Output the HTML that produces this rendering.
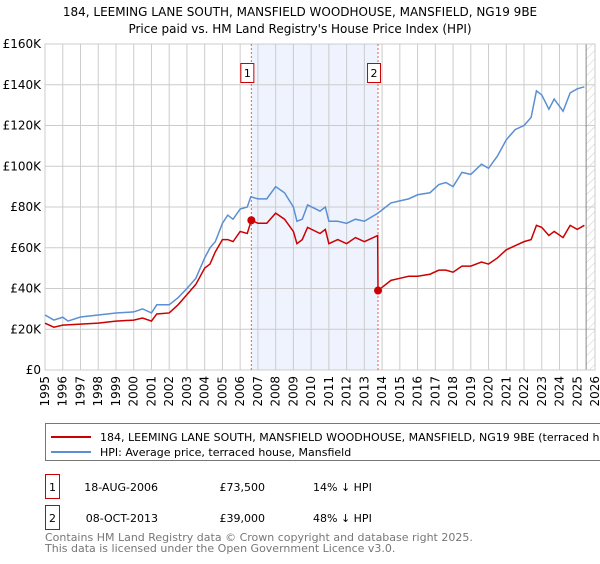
<!DOCTYPE html>
<html><head><meta charset="utf-8"><style>
body{margin:0;background:#fff;width:600px;height:560px;overflow:hidden;font-family:"DejaVu Sans","Liberation Sans",sans-serif;}
svg text{font-family:"DejaVu Sans","Liberation Sans",sans-serif;}
</style></head><body>
<svg id="c" width="600" height="560" viewBox="0 0 600 560"></svg>
<script>
const hpiYears=[1995,1995.5,1996,1996.3,1997,1998,1999,2000,2000.5,2001,2001.3,2002,2002.5,2003,2003.5,2004,2004.3,2004.6,2005,2005.3,2005.6,2006,2006.4,2006.6,2007,2007.5,2008,2008.5,2009,2009.2,2009.5,2009.8,2010.5,2010.8,2011,2011.5,2012,2012.5,2013,2013.77,2014.5,2015,2015.5,2016,2016.7,2017.2,2017.6,2018,2018.5,2019,2019.6,2020,2020.5,2021,2021.5,2022,2022.4,2022.7,2023,2023.4,2023.7,2024.2,2024.6,2025,2025.4];
const hpiValues=[27000,24500,25900,24000,26000,27000,28000,28500,30000,28000,32000,32000,35500,40000,45000,55000,60000,63000,72000,76000,74000,79000,80000,85000,84000,84000,90000,87000,80000,73000,74000,81000,78000,80000,73000,73000,72000,74000,73000,77000,82000,83000,84000,86000,87000,91000,92000,90000,97000,96000,101000,99000,105000,113000,118000,120000,124000,137000,135000,128000,133000,127000,136000,138000,139000];
const priceYears=[1995,1995.5,1996,1997,1998,1999,2000,2000.5,2001,2001.3,2002,2002.5,2003,2003.5,2004,2004.3,2004.6,2005,2005.3,2005.6,2006,2006.4,2006.63,2007,2007.5,2008,2008.5,2009,2009.2,2009.5,2009.8,2010.5,2010.8,2011,2011.5,2012,2012.5,2013,2013.75,2013.77,2014.5,2015,2015.5,2016,2016.7,2017.2,2017.6,2018,2018.5,2019,2019.6,2020,2020.5,2021,2021.5,2022,2022.4,2022.7,2023,2023.4,2023.7,2024.2,2024.6,2025,2025.4];
const priceValues=[23000,21000,22000,22500,23000,24000,24500,25500,24000,27500,28000,32000,37000,42000,50000,52000,58000,64000,64000,63000,68000,67000,73500,72000,72000,77000,74000,68000,62000,64000,70000,67000,69000,62000,64000,62000,65000,63000,66000,39000,44000,45000,46000,46000,47000,49000,49000,48000,51000,51000,53000,52000,55000,59000,61000,63000,64000,71000,70000,66000,68000,65000,71000,69000,71000];
const saleYears=[2006.63,2013.77];
const saleValues=[73500,39000];
const yTicks=[0,20000,40000,60000,80000,100000,120000,140000,160000];
const yTickLabels=["£0","£20K","£40K","£60K","£80K","£100K","£120K","£140K","£160K"];
const xTicks=[1995,1996,1997,1998,1999,2000,2001,2002,2003,2004,2005,2006,2007,2008,2009,2010,2011,2012,2013,2014,2015,2016,2017,2018,2019,2020,2021,2022,2023,2024,2025,2026];

const L=45,R=595,T=44,B=370;
const x=v=>L+(v-1995)/(2026-1995)*(R-L);
const y=v=>B-v/160000*(B-T);
const svg=document.getElementById('c');
const NS='http://www.w3.org/2000/svg';
function mk(tag,attrs,parent){const e=document.createElementNS(NS,tag);for(const k in attrs)e.setAttribute(k,attrs[k]);(parent||svg).appendChild(e);return e;}

// title
let t=mk('text',{x:300,y:16,'text-anchor':'middle','font-size':12,fill:'#000'});t.textContent='184, LEEMING LANE SOUTH, MANSFIELD WOODHOUSE, MANSFIELD, NG19 9BE';


t=mk('text',{x:300,y:33,'text-anchor':'middle','font-size':12,fill:'#000'});t.textContent="Price paid vs. HM Land Registry's House Price Index (HPI)";



// shaded region
let sh=mk('rect',{x:x(saleYears[0]),y:T,width:x(saleYears[1])-x(saleYears[0]),height:B-T,fill:'#eef3fd'});


// hatch
const defs=mk('defs',{});
const pat=mk('pattern',{id:'h',width:6,height:6,patternUnits:'userSpaceOnUse',patternTransform:'rotate(45)'},defs);
mk('line',{x1:0,y1:0,x2:0,y2:6,stroke:'#ccc','stroke-width':1},pat);
let hr=mk('rect',{x:x(2025.5),y:T,width:R-x(2025.5),height:B-T,fill:'url(#h)'});



// grid
yTicks.forEach((v,i)=>{
  const g=mk('line',{x1:L,x2:R,y1:y(v),y2:y(v),stroke:'#cccccc','stroke-width':1});
  
  
  const tl=mk('text',{x:L-4,y:y(v)+4,'text-anchor':'end','font-size':12,fill:'#000'});tl.textContent=yTickLabels[i];
  
  
});
xTicks.forEach(v=>{
  const g=mk('line',{x1:x(v),x2:x(v),y1:T,y2:B,stroke:'#cccccc','stroke-width':1});
  
  
  const tl=mk('text',{x:0,y:0,'text-anchor':'end','font-size':12,fill:'#000',transform:`translate(${x(v)+4},${B+6}) rotate(-90)`});tl.textContent=v;
  
  
});
let dl=mk('line',{x1:x(2025.5),x2:x(2025.5),y1:T,y2:B,stroke:'#888','stroke-width':1});


let fr=mk('rect',{x:L,y:T,width:R-L,height:B-T,fill:'none',stroke:'#cccccc'});



// sale vlines & labels
saleYears.forEach((v,i)=>{
  const l=mk('line',{x1:x(v),x2:x(v),y1:T,y2:B,stroke:'#e06060','stroke-width':1,'stroke-dasharray':'2,2'});
  
  
  const bx=mk('rect',{x:x(v)-10.5,y:63.5,width:13,height:19,fill:'#fff',stroke:'#cc0000'});
  
  
  const tt=mk('text',{x:x(v)-4,y:77,'text-anchor':'middle','font-size':11,fill:'#000'});tt.textContent=String(i+1);
  
  
});

// lines
let hp=mk('polyline',{points:hpiYears.map((v,i)=>x(v)+','+y(hpiValues[i])).join(' '),fill:'none',stroke:'#5b8fd4','stroke-width':1.5});


let pp=mk('polyline',{points:priceYears.map((v,i)=>x(v)+','+y(priceValues[i])).join(' '),fill:'none',stroke:'#cc0000','stroke-width':1.5});


saleYears.forEach((v,i)=>{
  const c=mk('circle',{cx:x(v),cy:y(saleValues[i]),r:4,fill:'#cc0000'});
  
  
});

// legend
let lg=mk('rect',{x:45.5,y:423.5,width:570,height:37,fill:'#fff',stroke:'#777'});


mk('line',{x1:51,x2:91,y1:437,y2:437,stroke:'#cc0000','stroke-width':2});
t=mk('text',{x:100,y:441,'font-size':11,fill:'#000'});t.textContent='184, LEEMING LANE SOUTH, MANSFIELD WOODHOUSE, MANSFIELD, NG19 9BE (terraced house)';


mk('line',{x1:51,x2:91,y1:452,y2:452,stroke:'#5b8fd4','stroke-width':2});
t=mk('text',{x:100,y:456,'font-size':11,fill:'#000'});t.textContent='HPI: Average price, terraced house, Mansfield';



// table
const rows=[["1","18-AUG-2006","£73,500","14% ↓ HPI",487],["2","08-OCT-2013","£39,000","48% ↓ HPI",518]];
rows.forEach(r=>{
  const b=mk('rect',{x:45.5,y:r[4]-12.5,width:14,height:24,fill:'#fff',stroke:'#cc0000'});
  
  
  let a=mk('text',{x:52.5,y:r[4]+4,'text-anchor':'middle','font-size':11});a.textContent=r[0];
  
  
  a=mk('text',{x:158,y:r[4]+4,'text-anchor':'end','font-size':11});a.textContent=r[1];
  
  
  a=mk('text',{x:265,y:r[4]+4,'text-anchor':'end','font-size':11});a.textContent=r[2];
  
  
  a=mk('text',{x:313,y:r[4]+4,'font-size':11});a.textContent=r[3];
  
  
});
t=mk('text',{x:45,y:541,'font-size':11,fill:'#777'});t.textContent='Contains HM Land Registry data © Crown copyright and database right 2025.';


t=mk('text',{x:45,y:552,'font-size':11,fill:'#777'});t.textContent='This data is licensed under the Open Government Licence v3.0.';


</script>
</body></html>
